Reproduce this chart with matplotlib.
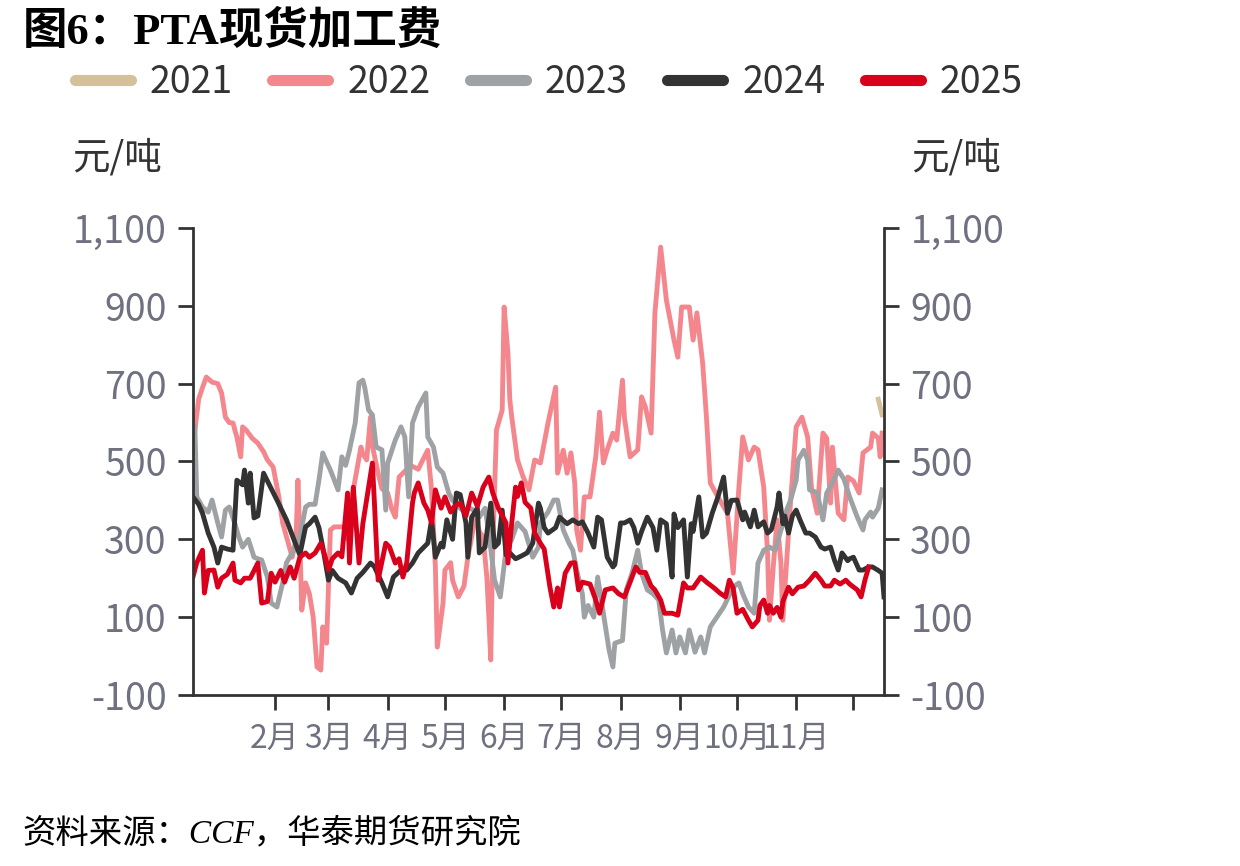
import matplotlib
matplotlib.use("Agg")
import matplotlib.pyplot as plt

plt.rcParams['font.family'] = ['Noto Sans CJK SC', 'DejaVu Sans']

# x = day of year (0 = Jan 1), values in 元/吨
days_2021 = [347, 349]
vals_2021 = [660, 620]

days_2022 = [-11, -9, -7, -5, -2, 1, 3, 5, 7, 9, 10, 11, 13, 14, 16, 19, 22, 25, 27, 30,
             33, 35, 39, 40, 42, 43, 44, 45, 47, 49, 51, 53, 55, 56, 58, 60, 62, 67, 69, 70,
             72, 76, 77, 79, 81, 82, 85, 87, 90, 92, 94, 96, 98, 102, 106, 109, 111, 113, 115, 116,
             119, 120, 123, 124, 127, 130, 132, 136, 138, 140, 142, 143, 144, 145, 147, 150, 151, 153, 154, 155,
             158, 161, 164, 167, 170, 174, 178, 179, 182, 184, 186, 188, 189, 191, 193, 196, 199, 201, 203, 205,
             208, 210, 213, 214, 217, 221, 223, 225, 228, 230, 233, 236, 240, 242, 244, 248, 250, 252, 255, 257,
             259, 263, 268, 271, 274, 276, 279, 282, 284, 287, 289, 290, 292, 294, 296, 297, 301, 304, 307, 310,
             312, 315, 318, 320, 322, 323, 326, 329, 331, 334, 337, 339, 343, 344, 347, 348, 349]
vals_2022 = [580, 660, 690, 717, 704, 700, 676, 614, 600, 599, 580, 563, 512, 589, 580, 560, 547, 525, 504, 486,
             409, 342, 272, 254, 300, 452, 300, 118, 188, 160, 100, -28, -36, 75, 33, 324, 332, 332, 300, 330,
             427, 537, 520, 504, 614, 540, 470, 430, 419, 380, 357, 460, 470, 490, 480, 510, 529, 427, 229, 23,
             136, 221, 240, 195, 152, 180, 254, 357, 320, 306, 200, 100, -10, 272, 581, 632, 897, 780, 658, 614,
             504, 460, 427, 504, 496, 599, 691, 470, 529, 470, 522, 445, 324, 272, 409, 409, 512, 627, 496, 530,
             573, 555, 709, 614, 512, 530, 666, 640, 573, 882, 1051, 915, 812, 768, 897, 897, 812, 882, 753, 614,
             445, 409, 367, 213, 434, 563, 504, 537, 530, 434, 265, 92, 230, 350, 240, 92, 393, 589, 614, 563,
             434, 367, 573, 560, 393, 537, 367, 350, 460, 450, 419, 522, 537, 573, 560, 512, 573]

days_2023 = [-11, -10, -7, -4, -2, 1, 3, 5, 7, 10, 12, 14, 17, 20, 22, 24, 27, 29, 32, 35,
             37, 40, 44, 47, 49, 52, 54, 56, 57, 60, 64, 66, 68, 70, 73, 75, 77, 78, 80, 82,
             84, 87, 89, 90, 94, 97, 99, 101, 103, 106, 110, 111, 114, 116, 119, 122, 124, 129, 133, 135,
             138, 141, 143, 146, 149, 152, 155, 158, 162, 166, 169, 170, 174, 177, 179, 182, 185, 187, 189, 192,
             193, 195, 198, 200, 203, 206, 208, 209, 213, 215, 218, 221, 223, 226, 229, 232, 234, 236, 239, 241,
             243, 246, 248, 251, 254, 256, 259, 266, 271, 274, 276, 279, 282, 284, 285, 287, 290, 293, 296, 298,
             299, 301, 304, 305, 308, 310, 311, 315, 318, 320, 323, 326, 329, 332, 336, 339, 340, 343, 344, 347, 349]
vals_2023 = [590, 409, 383, 370, 401, 342, 306, 375, 383, 340, 306, 280, 300, 254, 250, 247, 203, 136, 126, 188,
             240, 265, 306, 383, 390, 390, 452, 522, 510, 478, 427, 512, 490, 529, 599, 702, 709, 690, 632, 620,
             537, 530, 375, 496, 555, 589, 563, 409, 599, 640, 676, 563, 537, 486, 470, 419, 400, 375, 380, 375,
             357, 380, 316, 195, 152, 272, 300, 342, 320, 254, 280, 342, 370, 401, 401, 324, 290, 272, 221, 160,
             100, 130, 100, 203, 110, 15, -28, 33, 40, 170, 213, 272, 213, 170, 160, 144, 67, 8, 67, 8,
             49, 8, 67, 10, 49, 8, 75, 126, 177, 188, 160, 126, 110, 239, 250, 272, 280, 272, 324, 350,
             375, 400, 452, 504, 529, 504, 427, 420, 350, 419, 445, 478, 455, 409, 357, 324, 350, 370, 357, 380, 427]

days_2024 = [-12, -9, -7, -4, -1, 1, 3, 6, 9, 11, 14, 15, 17, 18, 20, 22, 25, 27, 32, 37,
             43, 44, 47, 49, 52, 54, 56, 59, 61, 64, 68, 71, 74, 77, 81, 83, 87, 90, 93, 97,
             100, 103, 106, 111, 113, 115, 118, 119, 121, 124, 126, 128, 131, 132, 134, 137, 138, 141, 144, 146,
             148, 150, 152, 154, 157, 160, 163, 166, 169, 170, 172, 174, 178, 180, 184, 187, 190, 192, 195, 198,
             200, 202, 205, 208, 209, 212, 214, 217, 219, 221, 223, 226, 229, 231, 233, 236, 237, 239, 240, 242,
             245, 247, 249, 250, 253, 255, 257, 260, 263, 266, 268, 270, 273, 276, 277, 280, 282, 284, 287, 289,
             291, 294, 295, 297, 298, 300, 302, 304, 306, 309, 311, 314, 317, 319, 322, 324, 326, 328, 331, 332,
             334, 337, 339, 342, 344, 347, 349, 350]
vals_2024 = [409, 390, 367, 316, 280, 239, 280, 275, 272, 452, 440, 478, 393, 470, 355, 360, 470, 450, 401, 350,
             272, 260, 332, 340, 357, 330, 280, 195, 220, 200, 188, 162, 200, 215, 239, 230, 188, 152, 203, 221,
             221, 239, 265, 290, 350, 254, 290, 280, 350, 300, 419, 415, 342, 254, 357, 380, 265, 280, 393, 280,
             290, 375, 260, 265, 250, 257, 265, 290, 393, 380, 330, 316, 330, 357, 340, 350, 340, 345, 316, 280,
             357, 350, 254, 229, 235, 342, 342, 350, 330, 290, 320, 357, 330, 272, 350, 340, 290, 203, 365, 330,
             350, 203, 340, 320, 409, 306, 316, 367, 409, 460, 367, 400, 401, 350, 370, 332, 375, 332, 345, 316,
             325, 383, 419, 340, 360, 316, 360, 375, 350, 316, 316, 306, 280, 275, 280, 247, 221, 265, 245, 250,
             254, 221, 221, 229, 229, 220, 213, 152]

days_2025 = [-12, -10, -7, -6, -4, -1, 1, 3, 6, 9, 10, 13, 15, 18, 22, 24, 27, 29, 31, 34,
             36, 39, 41, 44, 47, 49, 52, 55, 57, 59, 61, 64, 66, 69, 70, 72, 75, 77, 80, 82,
             83, 85, 89, 91, 94, 96, 98, 100, 103, 104, 106, 109, 111, 113, 115, 118, 120, 123, 125, 128,
             131, 134, 137, 140, 143, 145, 148, 152, 153, 155, 157, 158, 160, 162, 165, 167, 170, 172, 175, 177,
             179, 180, 183, 186, 188, 190, 192, 196, 199, 201, 204, 208, 211, 214, 217, 220, 222, 225, 228, 230,
             233, 235, 239, 242, 245, 247, 250, 254, 257, 261, 264, 267, 269, 271, 273, 276, 279, 281, 284, 285,
             287, 289, 290, 292, 294, 296, 297, 300, 302, 305, 308, 311, 314, 317, 319, 322, 324, 327, 330, 332,
             336, 338, 340, 342]
vals_2025 = [203, 240, 272, 162, 220, 221, 177, 200, 210, 239, 195, 188, 200, 200, 239, 136, 140, 213, 190, 220,
             190, 229, 200, 254, 265, 254, 265, 290, 260, 221, 250, 265, 255, 419, 239, 434, 239, 340, 434, 496,
             400, 195, 290, 280, 239, 250, 203, 240, 393, 420, 445, 393, 375, 342, 427, 380, 409, 370, 385, 393,
             360, 419, 385, 434, 460, 420, 380, 342, 239, 342, 434, 410, 445, 395, 380, 316, 290, 275, 177, 126,
             175, 126, 213, 239, 240, 170, 190, 185, 144, 110, 170, 175, 160, 152, 190, 229, 215, 215, 180, 170,
             144, 110, 110, 105, 188, 175, 175, 203, 190, 175, 162, 152, 195, 175, 110, 120, 92, 75, 92, 130,
             144, 110, 130, 110, 125, 100, 140, 177, 160, 177, 180, 195, 213, 195, 180, 180, 195, 185, 195, 185,
             170, 152, 195, 229]

month_starts = [31, 59, 90, 120, 151, 181, 212, 243, 273, 304, 334]
month_labels = ['2月', '3月', '4月', '5月', '6月', '7月', '8月', '9月', '10月', '11月', '']
y_ticks = [-100, 100, 300, 500, 700, 900, 1100]

series = [
    ('2021', days_2021, vals_2021, '#d4c09b'),
    ('2022', days_2022, vals_2022, '#f4878d'),
    ('2023', days_2023, vals_2023, '#9fa2a5'),
    ('2024', days_2024, vals_2024, '#333333'),
    ('2025', days_2025, vals_2025, '#d9001b'),
]

tick_color = '#6f7080'
spine_color = '#333333'
serif_cjk = ['Liberation Serif', 'Noto Sans CJK SC']

fig = plt.figure(figsize=(12.4, 8.66), dpi=100)
ax = fig.add_axes([0.1556, 0.1975, 0.5573, 0.5392])

handles = []
for name, d, v, c in series:
    ln, = ax.plot(d, v, color=c, lw=3.5, label=name)
    handles.append(ln)

ax.set_xlim(-12, 350)
ax.set_ylim(-100, 1100)
ax.set_xticks(month_starts)
ax.set_xticklabels(month_labels, fontsize=23, color=tick_color)
ax.set_yticks(y_ticks)
ax.set_yticklabels([f'{t:,}' for t in y_ticks], fontsize=27, color=tick_color)
ax.tick_params(axis='x', length=11, width=2, color=spine_color, pad=9)
ax.tick_params(axis='y', length=11, width=2, color=spine_color, pad=8)
for s in ['left', 'bottom']:
    ax.spines[s].set_color(spine_color)
    ax.spines[s].set_linewidth(2)
ax.spines['top'].set_visible(False)
ax.spines['right'].set_visible(False)

ax2 = ax.twinx()
ax2.set_ylim(-100, 1100)
ax2.set_yticks(y_ticks)
ax2.set_yticklabels([f'{t:,}' for t in y_ticks], fontsize=27, color=tick_color)
ax2.tick_params(axis='y', length=11, width=2, color=spine_color, pad=8)
ax2.spines['right'].set_color(spine_color)
ax2.spines['right'].set_linewidth(2)
for s in ['left', 'top', 'bottom']:
    ax2.spines[s].set_visible(False)

fig.text(0.058, 0.818, '元/吨', fontsize=27, color='#333333', va='center')
fig.text(0.735, 0.818, '元/吨', fontsize=27, color='#333333', va='center')

fig.text(0.018, 0.963, '图6：PTA现货加工费', fontsize=32, fontweight='bold',
         family=serif_cjk, color='black', va='center')

leg = fig.legend(handles=handles, loc='center left', bbox_to_anchor=(0.048, 0.905),
                 ncol=5, frameon=False, fontsize=27, handlelength=1.5,
                 handletextpad=0.5, columnspacing=1.05, borderaxespad=0)
for t in leg.get_texts():
    t.set_color('#333333')
for h in leg.legend_handles:
    h.set_linewidth(8)
    h.set_solid_capstyle('round')

fig.text(0.018, 0.037, '资料来源：CCF，华泰期货研究院', fontsize=24, style='italic',
         family=serif_cjk, color='black', va='center')

fig.savefig('out.png', dpi=100)
